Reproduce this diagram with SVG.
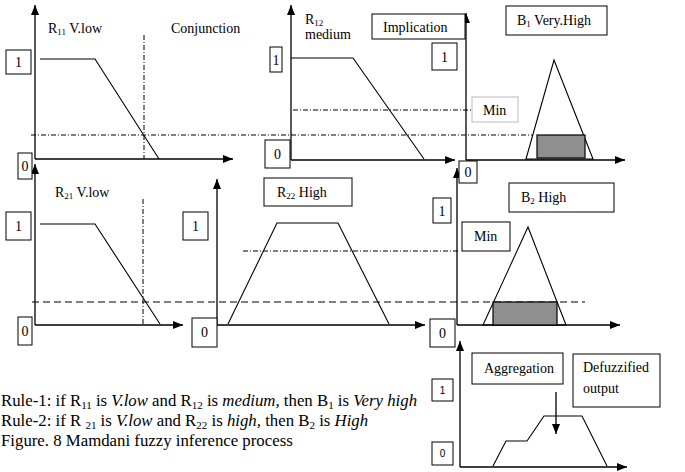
<svg xmlns="http://www.w3.org/2000/svg" width="685" height="472" viewBox="0 0 685 472">
<defs>
<marker id="ah" markerUnits="userSpaceOnUse" markerWidth="12" markerHeight="10" refX="10" refY="4" orient="auto">
<path d="M0,0 L10,4 L0,8 Z" fill="#000"/>
</marker>
<style>
text{font-family:"Liberation Serif","Times New Roman",serif;font-size:14px;fill:#000}
.sub{font-size:9px}
.rsub{font-size:11px}
.box{fill:#fff;stroke:#000;stroke-width:1}
.gbox{fill:#fff;stroke:#bbb;stroke-width:1}
.ax{stroke:#000;stroke-width:1.3;fill:none;marker-end:url(#ah)}
.mf{stroke:#000;stroke-width:1.1;fill:none}
.dd{stroke:#000;stroke-width:1;stroke-dasharray:5 2 1 2;fill:none}
.da{stroke:#000;stroke-width:1;stroke-dasharray:7 4;fill:none}
.cut{fill:#8f8f8f;stroke:#000;stroke-width:1.2}
.c{text-anchor:middle}
.sans{font-family:"Liberation Sans",Arial,sans-serif;font-size:10px}
.rule{font-size:16.8px}
</style>
</defs>

<g id="connectors">
<line class="dd" x1="144" y1="35" x2="144" y2="159"/>
<line class="dd" x1="31" y1="135" x2="532" y2="135"/>
<line class="dd" x1="293" y1="110" x2="472" y2="110"/>
<line class="dd" x1="143" y1="199" x2="143" y2="325"/>
<line class="da" x1="32" y1="302" x2="585" y2="302"/>
<line class="dd" x1="243" y1="251" x2="460" y2="251"/>
<line class="ax" x1="35" y1="159" x2="35" y2="5"/>
<line class="ax" x1="35" y1="159" x2="233" y2="159"/>
<line class="ax" x1="291" y1="160" x2="291" y2="5"/>
<line class="ax" x1="291" y1="160" x2="455" y2="160"/>
<line class="ax" x1="466" y1="160" x2="466" y2="13"/>
<line class="ax" x1="466" y1="160" x2="625" y2="160"/>
<line class="ax" x1="35" y1="325" x2="35" y2="164"/>
<line class="ax" x1="35" y1="325" x2="183" y2="325"/>
<line class="ax" x1="217" y1="325" x2="217" y2="179"/>
<line class="ax" x1="217" y1="325" x2="425" y2="325"/>
<line class="ax" x1="457" y1="325" x2="457" y2="168"/>
<line class="ax" x1="457" y1="325" x2="620" y2="325"/>
<line class="ax" x1="460" y1="467" x2="460" y2="341"/>
<line class="ax" x1="460" y1="467" x2="627" y2="467"/>
<line class="ax" x1="556" y1="392" x2="556" y2="434"/>
</g>

<g id="r11">
<polyline class="mf" points="40,59 95,59 159,159"/>
<text x="48" y="33">R<tspan class="sub" dy="2">11</tspan><tspan dy="-2"> V.low</tspan></text>
<text x="171" y="33">Conjunction</text>
<rect class="box" x="6" y="50" width="25" height="24"/><text class="c" x="18.5" y="67">1</text>
<rect class="box" x="18" y="153" width="14" height="26"/><text class="c" x="25" y="171">0</text>
</g>

<g id="r12">
<polyline class="mf" points="291,58 353,58 424,159"/>
<text x="305" y="24">R<tspan class="sub" dy="2">12</tspan></text>
<text x="305" y="39">medium</text>
<rect class="box" x="270" y="47" width="12" height="25"/><text class="c" x="276" y="65">1</text>
<rect class="box" x="265" y="140" width="25" height="28"/><text class="c" x="277.5" y="159">0</text>
</g>

<g id="implication">
<rect class="box" x="372" y="14" width="93" height="25"/><text x="383" y="32">Implication</text>
</g>

<g id="b1">
<polygon class="mf" points="526,159 554,60 593,159"/>
<rect class="cut" x="537" y="135" width="48" height="23"/>
<rect class="box" x="506" y="6" width="101" height="29"/>
<text x="517" y="25">B<tspan class="sub" dy="2">1</tspan><tspan dy="-2"> Very.High</tspan></text>
<rect class="box" x="432" y="43" width="25" height="27"/><text class="c" x="444.5" y="62">1</text>
<rect class="box" x="459" y="161" width="18" height="22"/><text class="c" x="468" y="177">0</text>
<rect class="gbox" x="472" y="97" width="46" height="25"/><text x="483" y="115">Min</text>
</g>

<g id="r21">
<polyline class="mf" points="40,224 95,224 160,324"/>
<text x="55" y="197">R<tspan class="sub" dy="2">21</tspan><tspan dy="-2">  V.low</tspan></text>
<rect class="box" x="6" y="212" width="25" height="28"/><text class="c" x="18.5" y="231">1</text>
<rect class="box" x="18" y="317" width="14" height="28"/><text class="c" x="25" y="336">0</text>
</g>

<g id="r22">
<polyline class="mf" points="228,324 277,223 338,223 389,324"/>
<rect class="box" x="264" y="178" width="88" height="28"/>
<text x="277" y="197">R<tspan class="sub" dy="2">22</tspan><tspan dy="-2"> High</tspan></text>
<rect class="box" x="183" y="212" width="25" height="28"/><text class="c" x="195.5" y="231">1</text>
<rect class="box" x="192" y="318" width="25" height="29"/><text class="c" x="204.5" y="337">0</text>
</g>

<g id="b2">
<polygon class="mf" points="483,325 528,227 566,325"/>
<rect class="cut" x="493" y="302" width="64" height="23"/>
<rect class="box" x="509" y="183" width="105" height="29"/>
<text x="521" y="202">B<tspan class="sub" dy="2">2</tspan><tspan dy="-2"> High</tspan></text>
<rect class="box" x="462" y="222" width="48" height="29"/><text x="474" y="241">Min</text>
<rect class="box" x="433" y="198" width="18" height="25"/><text class="c" x="442" y="216">1</text>
<rect class="box" x="430" y="319" width="25" height="28"/><text class="c" x="442.5" y="338">0</text>
</g>

<g id="aggregation">
<polyline class="mf" points="493,466 506,441 527,441 544,416 582,416 607,466"/>
<rect class="box" x="472" y="353" width="91" height="31"/><text x="484" y="373">Aggregation</text>
<rect class="box" x="573" y="354" width="87" height="53"/>
<text x="583" y="372">Defuzzified</text>
<text x="583" y="393">output</text>
<rect class="box" x="432" y="379" width="21" height="22"/><text class="c sans" x="442.5" y="394">1</text>
<rect class="box" x="432" y="442" width="21" height="23"/><text class="c sans" x="442.5" y="457">0</text>
</g>

<g id="caption">
<text class="rule" x="1" y="406">Rule-1: if R<tspan class="rsub" dy="3">11</tspan><tspan dy="-3"> is </tspan><tspan font-style="italic">V.low</tspan> and R<tspan class="rsub" dy="3">12</tspan><tspan dy="-3"> is </tspan><tspan font-style="italic">medium,</tspan> then B<tspan class="rsub" dy="3">1</tspan><tspan dy="-3"> is </tspan><tspan font-style="italic">Very high</tspan></text>
<text class="rule" x="1" y="426">Rule-2: if R <tspan class="rsub" dy="3">21</tspan><tspan dy="-3"> is </tspan><tspan font-style="italic">V.low</tspan> and R<tspan class="rsub" dy="3">22</tspan><tspan dy="-3"> is </tspan><tspan font-style="italic">high,</tspan> then B<tspan class="rsub" dy="3">2</tspan><tspan dy="-3"> is </tspan><tspan font-style="italic">High</tspan></text>
<text class="rule" x="1" y="446">Figure. 8 Mamdani fuzzy inference process</text>
</g>
</svg>
